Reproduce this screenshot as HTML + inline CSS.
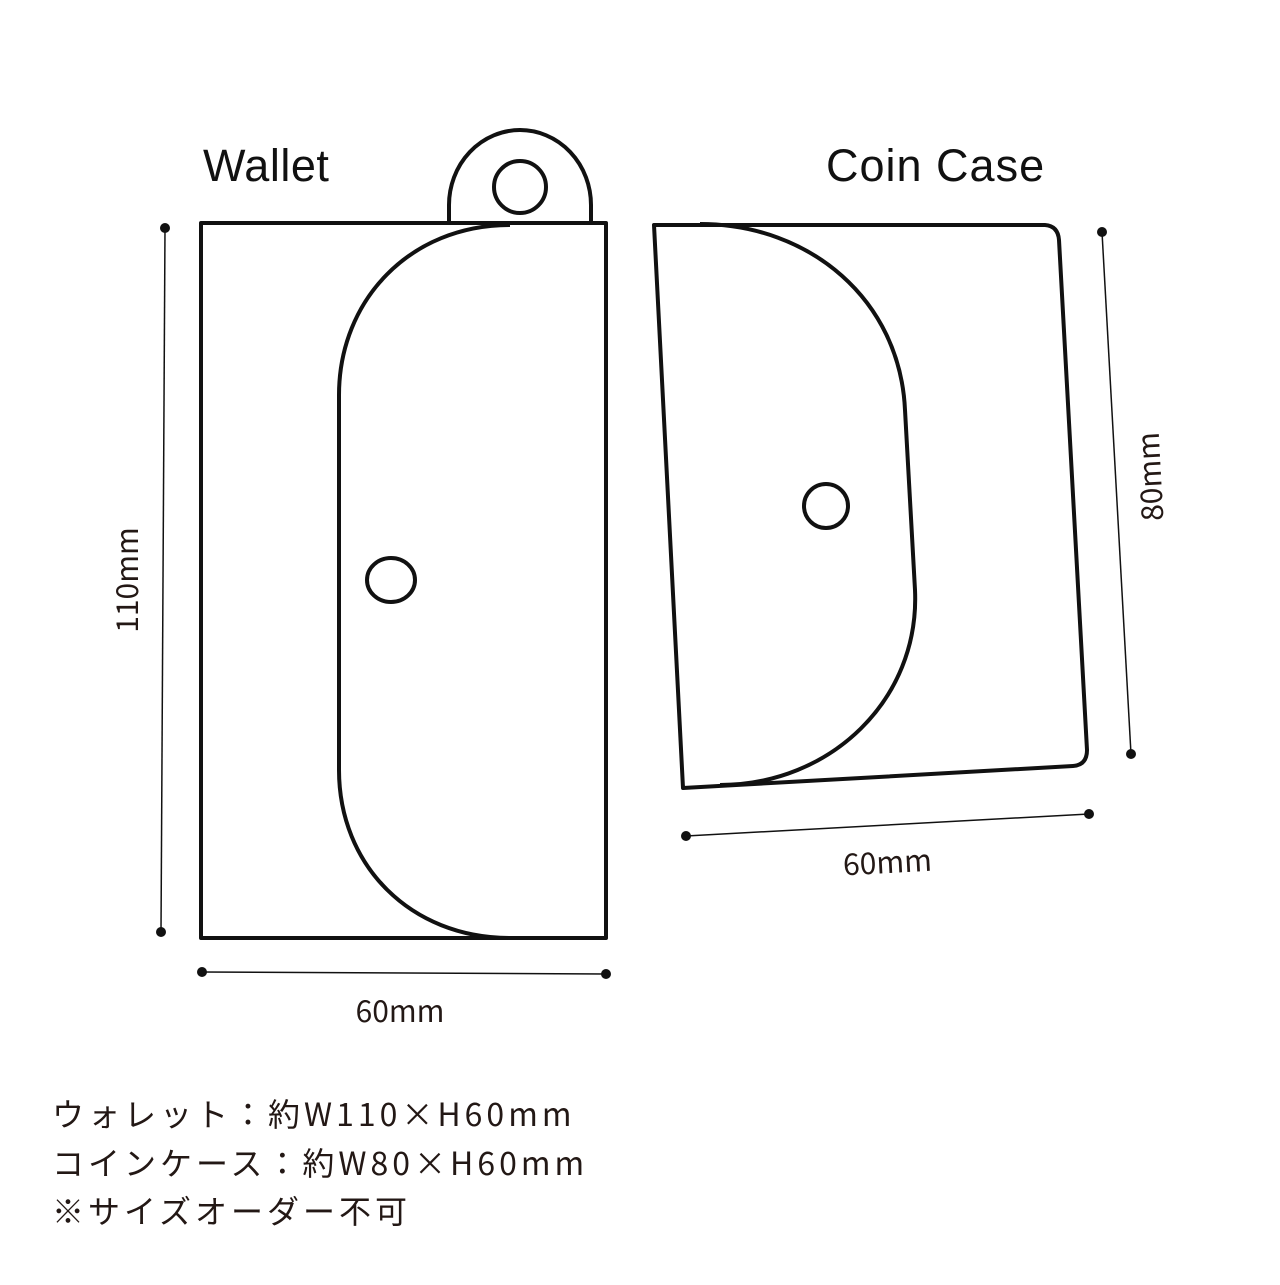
<!DOCTYPE html>
<html><head><meta charset="utf-8"><style>
html,body{margin:0;padding:0;background:#fff;}
body{width:1280px;height:1280px;overflow:hidden;}
</style></head><body>
<svg width="1280" height="1280" viewBox="0 0 1280 1280" xmlns="http://www.w3.org/2000/svg">
<g fill="none" stroke="#111" stroke-width="4" stroke-linejoin="round">
  <path d="M449,223 L449,205 A71,75 0 0 1 591,205 L591,223"/>
  <circle cx="520" cy="187" r="26"/>
  <rect x="201" y="223" width="405" height="715" fill="#fff"/>
  <path d="M510,225 C410,225 339,300 339,395 L339,770 C339,865 410,938 510,938"/>
  <ellipse cx="391" cy="580" rx="24" ry="22"/>
  <path d="M654,225 L1045,225 Q1058,226 1059,240 L1087,750 Q1087,765 1073,766 L683,788 Z"/>
  <path d="M700,224 C810,224 900,300 905,410 L915,590 C920,700 830,785 720,785"/>
  <circle cx="826" cy="506" r="22"/>
</g>
<g stroke="#111" stroke-width="1.5">
  <line x1="165" y1="228" x2="161" y2="932"/>
  <line x1="202" y1="972" x2="606" y2="974"/>
  <line x1="1102" y1="232" x2="1131" y2="754"/>
  <line x1="686" y1="836" x2="1089" y2="814"/>
</g>
<g fill="#111">
  <circle cx="165" cy="228" r="5"/><circle cx="161" cy="932" r="5"/>
  <circle cx="202" cy="972" r="5"/><circle cx="606" cy="974" r="5"/>
  <circle cx="1102" cy="232" r="5"/><circle cx="1131" cy="754" r="5"/>
  <circle cx="686" cy="836" r="5"/><circle cx="1089" cy="814" r="5"/>
</g>
<g font-family="Liberation Sans, sans-serif" fill="#111">
  <text x="203" y="181" font-size="45" letter-spacing="0.5">Wallet</text>
  <text x="826" y="181" font-size="45" letter-spacing="1">Coin Case</text>
</g>
<g font-family="'Noto Sans CJK JP', sans-serif" fill="#231815" font-size="30">
  <text x="400" y="1022" text-anchor="middle">60mm</text>
  <text transform="translate(888,873) rotate(-3)" text-anchor="middle">60mm</text>
  <text transform="translate(138,580) rotate(-90)" text-anchor="middle">110mm</text>
  <text transform="translate(1161,476) rotate(-93)" text-anchor="middle">80mm</text>
</g>
<g font-family="'Noto Sans CJK JP', sans-serif" fill="#231815" font-size="32" letter-spacing="4">
  <text x="52" y="1126">ウォレット：約W110×H60mm</text>
  <text x="52" y="1175">コインケース：約W80×H60mm</text>
  <text x="52" y="1223">※サイズオーダー不可</text>
</g>
</svg>
</body></html>
